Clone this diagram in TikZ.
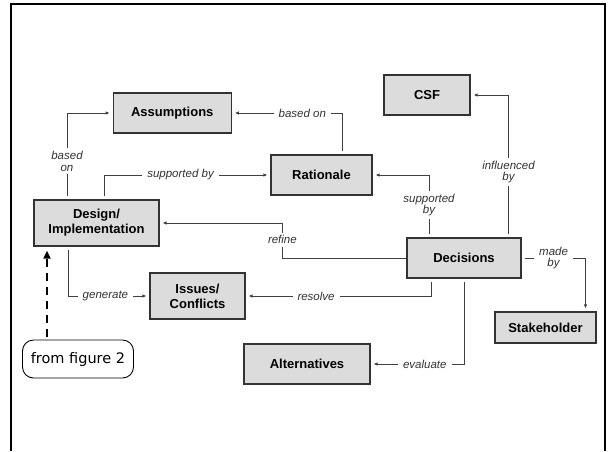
\documentclass[tikz,border=0pt]{standalone}
\usepackage{fontspec}
\setmainfont{Liberation Sans}
\newfontfamily\notefont{DejaVu Sans}
\usetikzlibrary{arrows.meta}
\definecolor{boxfill}{HTML}{DCDCDC}
\definecolor{boxline}{HTML}{333333}
\definecolor{linkline}{HTML}{404040}
\definecolor{linktext}{HTML}{333333}
\begin{document}
\begin{tikzpicture}[x=1pt,y=-1pt,
  entity/.style={draw=boxline,line width=1.2pt,fill=boxfill,inner sep=0pt,
    align=center,font=\fontsize{13}{15}\selectfont\bfseries},
  link/.style={draw=linkline,line width=0.9pt,shorten <=3pt,shorten >=3pt,
    -{Latex[length=4pt,width=3.5pt]}},
  tag/.style={fill=white,inner xsep=5pt,inner ysep=3pt,align=center,
    text=linktext,font=\fontsize{11.5}{11.5}\selectfont\itshape}]
\useasboundingbox (0,0) rectangle (610,451);
% outer frame, open at the bottom
\draw[line width=2pt] (11,451) -- (11,4) -- (605,4) -- (605,451);

% entities
\node[entity,minimum width=118pt,minimum height=40pt] (ass) at (172.25,113) {Assumptions};
\node[entity,minimum width=86pt,minimum height=40pt] (csf) at (427,95) {CSF};
\node[entity,minimum width=101pt,minimum height=40pt] (rat) at (321.5,175) {Rationale};
\node[entity,minimum width=125pt,minimum height=46pt] (des) at (96.5,223) {Design/\\Implementation};
\node[entity,minimum width=114pt,minimum height=40pt] (dec) at (464,258) {Decisions};
\node[entity,minimum width=95pt,minimum height=46pt] (iss) at (197.5,296) {Issues/\\Conflicts};
\node[entity,minimum width=101pt,minimum height=31pt] (stk) at (545.5,327.5) {Stakeholder};
\node[entity,minimum width=126pt,minimum height=40pt] (alt) at (307,364) {Alternatives};
\node[draw=black,line width=0.9pt,rounded corners=11pt,minimum width=111pt,minimum height=38pt,
  inner sep=0pt,font=\notefont\fontsize{14.5}{16}\selectfont] (fig) at (78,359) {from figure 2};

% relations
\draw[link] ([xshift=-29.5pt]des.north) |- node[tag,pos=0.22] {based\\on} (ass.west);
\draw[link] ([xshift=7.5pt]des.north) |- node[tag,pos=0.73] {supported by} (rat.west);
\draw[link] ([xshift=20.5pt]rat.north) |- node[tag,pos=0.68] {based on} (ass.east);
\draw[link] ([xshift=-35pt]dec.north) |- node[tag,pos=0.26] {supported\\by} (rat.east);
\draw[link] ([xshift=44.5pt]dec.north) |- node[tag,pos=0.23] {influenced\\by} (csf.east);
\draw[link,shorten <=0pt] (dec.west) -- ++(-124,0) |- node[tag,pos=0.26] {refine} (des.east);
\draw[link] ([xshift=-33pt]dec.south) |- node[tag,pos=0.81] {resolve} (iss.east);
\draw[link] ([xshift=-28.5pt]des.south) |- node[tag,pos=0.73] {generate} (iss.west);
\draw[link] (dec.south) |- node[tag,pos=0.71] {evaluate} (alt.east);
\draw[link] (dec.east) -| node[tag,pos=0.25] {made\\by} ([xshift=40pt]stk.north);

% incoming link from the previous figure
\coordinate (fs) at ([xshift=-31pt]fig.north);
\draw[line width=1.8pt,dash pattern=on 8pt off 6pt,shorten <=3pt,shorten >=4pt,
  -{Triangle[length=8pt,width=7pt]}] (fs) -- (fs |- des.south);
\end{tikzpicture}
\end{document}
